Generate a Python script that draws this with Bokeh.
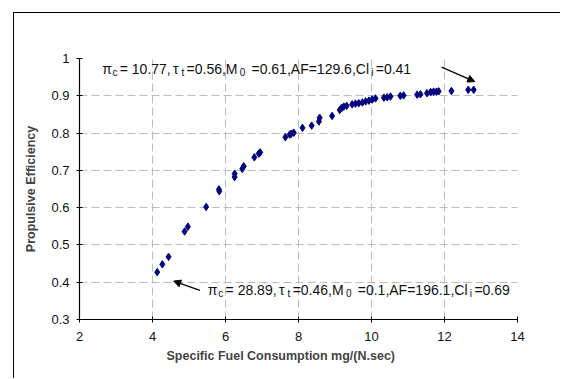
from bokeh.plotting import figure
from bokeh.models import Arrow, NormalHead, ColumnDataSource, FixedTicker, Title
from bokeh.embed import file_html
from bokeh.resources import INLINE

# Specific fuel consumption (mg/(N.sec)) and propulsive efficiency per design point
sfc = [4.13, 4.27, 4.44, 4.88, 4.97, 5.47, 5.82, 5.83, 6.25, 6.25, 6.46, 6.50,
       6.79, 6.91, 6.95, 7.64, 7.76, 7.80, 7.87, 8.11, 8.36, 8.56, 8.58, 8.92,
       9.13, 9.18, 9.24, 9.32, 9.47, 9.56, 9.65, 9.75, 9.84, 9.93, 10.02, 10.11,
       10.34, 10.43, 10.52, 10.79, 10.88, 11.25, 11.34, 11.52, 11.62, 11.70,
       11.78, 11.84, 12.19, 12.65, 12.80]
eff = [0.427, 0.448, 0.468, 0.536, 0.549, 0.602, 0.649, 0.644, 0.691, 0.682,
       0.704, 0.711, 0.735, 0.745, 0.748, 0.789, 0.796, 0.798, 0.801, 0.814,
       0.820, 0.831, 0.841, 0.846, 0.862, 0.867, 0.871, 0.873, 0.877, 0.879,
       0.880, 0.882, 0.885, 0.887, 0.890, 0.893, 0.895, 0.896, 0.898, 0.900,
       0.901, 0.903, 0.904, 0.907, 0.910, 0.911, 0.911, 0.912, 0.913, 0.916,
       0.916]

x_ticks = [2, 4, 6, 8, 10, 12, 14]
y_ticks = [0.3, 0.4, 0.5, 0.6, 0.7, 0.8, 0.9, 1.0]

# Design-point annotations: (text, is_subscript) pieces
top_note = [("π", False), ("c", True), ("= 10.77,", False), ("τ", False), ("t", True),
            ("=0.56,M", False), ("0", True), (" =0.61,AF=129.6,Cl", False), ("i", True),
            ("=0.41", False)]
bottom_note = [("π", False), ("c", True), ("= 28.89,", False), ("τ", False), ("t", True),
               ("=0.46,M", False), ("0", True), (" =0.1,AF=196.1,Cl", False), ("i", True),
               ("=0.69", False)]

# annotation anchors (data coords) and arrows
top_anchor = (2.62, 0.9705)
bottom_anchor = (5.515, 0.378)
top_arrow = (11.92, 0.977, 12.83, 0.938)
bottom_arrow = (5.30, 0.378, 4.58, 0.403)

MAIN_PX, SUB_PX = 14, 10

# approximate advance widths (em) of Liberation Sans
EM = {"0": .556, "1": .556, "2": .556, "3": .556, "4": .556, "5": .556, "6": .556,
      "7": .556, "8": .556, "9": .556, ".": .278, ",": .278, "=": .584, " ": .278,
      "M": .833, "A": .667, "F": .611, "C": .722, "l": .222, "i": .222, "c": .5,
      "t": .278, "π": .58, "τ": .45}


def layout_note(pieces, span_px):
    """Place the pieces of a note along one baseline, subscripts lowered."""
    widths = [sum(EM.get(ch, .556) for ch in t) * (SUB_PX if sub else MAIN_PX)
              for t, sub in pieces]
    extra = (span_px - sum(widths)) / (len(widths) - 1)
    texts, dx, dy, sizes = [], [], [], []
    pos = 0.0
    for (t, sub), w in zip(pieces, widths):
        size = SUB_PX if sub else MAIN_PX
        lead = (len(t) - len(t.lstrip(" "))) * EM[" "] * size  # svg drops leading blanks
        texts.append(t.lstrip(" "))
        dx.append(pos + lead)
        dy.append(3 if sub else 0)
        sizes.append("%gpx" % size)
        pos += w + extra
    return texts, dx, dy, sizes


p = figure(width=547, height=366, x_range=(2, 14), y_range=(0.3, 1.0),
           output_backend="svg", toolbar_location=None,
           min_border_left=65, min_border_right=44, min_border_top=45,
           min_border_bottom=60)
p.outline_line_color = None
p.background_fill_color = "white"
p.border_fill_color = "white"

for g in (p.xgrid, p.ygrid):
    g.grid_line_color = "#bdbdbd"
    g.grid_line_dash = "8 4"
    g.grid_line_width = 1

p.xaxis.ticker = FixedTicker(ticks=x_ticks)
p.yaxis.ticker = FixedTicker(ticks=y_ticks)
p.yaxis.major_label_overrides = {1.0: "1"}
for ax in (p.xaxis, p.yaxis):
    ax.axis_line_color = "black"
    ax.axis_line_width = 1.2
    ax.major_tick_line_color = "black"
    ax.major_tick_in = 3
    ax.major_tick_out = 3
    ax.minor_tick_line_color = None
    ax.major_label_text_font = "Liberation Sans"
    ax.major_label_text_font_size = "13px"
    ax.major_label_text_color = "#111111"
p.xaxis.major_label_standoff = 9
p.yaxis.major_label_standoff = 7

p.yaxis.axis_label = "Propulsive Efficiency"
p.yaxis.axis_label_text_font = "Liberation Sans"
p.yaxis.axis_label_text_font_style = "bold"
p.yaxis.axis_label_text_font_size = "12.5px"
p.yaxis.axis_label_standoff = 10

p.add_layout(Title(text="Specific Fuel Consumption  mg/(N.sec)", align="left",
                   offset=87, text_font="Liberation Sans", text_font_style="bold",
                   text_font_size="12.5px", standoff=6), "below")

p.scatter(sfc, eff, marker="diamond", size=7.5, color="#000080")

for pieces, anchor, span in ((top_note, top_anchor, 309), (bottom_note, bottom_anchor, 302)):
    texts, dx, dy, sizes = layout_note(pieces, span)
    src = ColumnDataSource(dict(x=[anchor[0]] * len(texts), y=[anchor[1]] * len(texts),
                                text=texts, dx=dx, dy=dy, size=sizes))
    p.text(x="x", y="y", text="text", x_offset="dx", y_offset="dy",
           text_font_size="size", text_font={"value": "Liberation Sans"},
           text_color="#111111", text_baseline="alphabetic", source=src)

for xs, ys, xe, ye in (top_arrow, bottom_arrow):
    p.add_layout(Arrow(end=NormalHead(size=7, fill_color="black", line_color="black"),
                       x_start=xs, y_start=ys, x_end=xe, y_end=ye,
                       line_color="black", line_width=1.2))

p.styles = {"margin-left": "13px", "margin-top": "12px",
            "border-left": "1px solid #000", "border-top": "1px solid #000",
            "border-right": "none", "border-bottom": "none"}

open("out.html", "w").write(file_html(p, INLINE))
